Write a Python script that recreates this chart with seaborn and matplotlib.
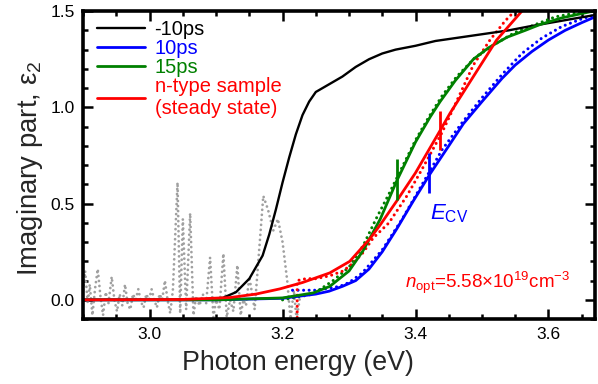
import numpy as np
import pandas as pd
import matplotlib
matplotlib.use("Agg")
import matplotlib.pyplot as plt
import seaborn as sns
from matplotlib.ticker import MultipleLocator, FormatStrFormatter

# ---- data ----
# -10ps (black, solid)
blk_x = [2.90, 3.00, 3.08, 3.11, 3.13, 3.15, 3.17, 3.18, 3.19, 3.20, 3.21, 3.22, 3.23,
         3.24, 3.25, 3.26, 3.27, 3.29, 3.31, 3.33, 3.35, 3.37, 3.40, 3.43, 3.47, 3.50,
         3.54, 3.57, 3.62, 3.67]
blk_y = [0.0, 0.0, 0.002, 0.01, 0.04, 0.11, 0.23, 0.34, 0.47, 0.61, 0.74, 0.86, 0.96,
         1.03, 1.08, 1.10, 1.12, 1.16, 1.21, 1.25, 1.28, 1.30, 1.32, 1.345, 1.365, 1.38,
         1.40, 1.42, 1.45, 1.48]

# 10ps (blue)
blu_x = [2.90, 3.10, 3.20, 3.25, 3.27, 3.29, 3.31, 3.33, 3.35, 3.372, 3.396, 3.422,
         3.45, 3.472, 3.50, 3.53, 3.55, 3.575, 3.60, 3.625, 3.65, 3.67]
blu_y = [0.0, 0.0, 0.008, 0.03, 0.045, 0.07, 0.10, 0.16, 0.25, 0.37, 0.51, 0.655,
         0.80, 0.915, 1.03, 1.15, 1.22, 1.29, 1.35, 1.40, 1.44, 1.47]
blu_dx = [3.215, 3.25, 3.286, 3.30, 3.32, 3.35, 3.38, 3.41, 3.44, 3.47, 3.50, 3.53,
          3.56, 3.59, 3.62, 3.65, 3.67]
blu_dy = [0.05, 0.05, 0.07, 0.09, 0.14, 0.26, 0.42, 0.60, 0.78, 0.92, 1.05, 1.17,
          1.28, 1.36, 1.42, 1.46, 1.48]

# 15ps (green)
grn_x = [2.90, 3.10, 3.20, 3.246, 3.271, 3.30, 3.321, 3.347, 3.372, 3.40, 3.422, 3.437,
         3.46, 3.487, 3.51, 3.538, 3.565, 3.587, 3.62, 3.667]
grn_y = [0.0, 0.0, 0.01, 0.036, 0.07, 0.15, 0.255, 0.42, 0.62, 0.82, 0.95, 1.03,
         1.14, 1.25, 1.31, 1.365, 1.40, 1.43, 1.465, 1.50]
grn_dx = [3.20, 3.246, 3.276, 3.30, 3.321, 3.342, 3.36, 3.38, 3.40, 3.42, 3.44, 3.462,
          3.49, 3.52, 3.55, 3.58, 3.61, 3.64, 3.667]
grn_dy = [0.0, 0.03, 0.10, 0.17, 0.28, 0.43, 0.55, 0.69, 0.83, 0.95, 1.06, 1.16,
          1.26, 1.33, 1.39, 1.43, 1.47, 1.49, 1.50]

# n-type sample, steady state (red)
red_x = [2.90, 3.05, 3.121, 3.16, 3.196, 3.23, 3.271, 3.301, 3.332, 3.347, 3.372, 3.40,
         3.437, 3.452, 3.487, 3.522, 3.565]
red_y = [0.0, 0.002, 0.012, 0.03, 0.057, 0.09, 0.14, 0.20, 0.32, 0.39, 0.515, 0.66,
         0.88, 0.97, 1.16, 1.35, 1.52]
red_dx = [3.222, 3.222, 3.235, 3.25, 3.271, 3.291, 3.306, 3.321, 3.336, 3.36, 3.387,
          3.41, 3.44, 3.467, 3.487, 3.512, 3.535, 3.552]
red_dy = [-0.12, 0.10, 0.11, 0.11, 0.125, 0.15, 0.19, 0.245, 0.32, 0.40, 0.54,
          0.68, 0.87, 1.07, 1.22, 1.35, 1.45, 1.51]

# noisy low-energy data (grey, dotted)
gry_x = [2.900, 2.903, 2.907, 2.910, 2.914, 2.918, 2.922, 2.926, 2.930, 2.934, 2.938,
         2.943, 2.947, 2.951, 2.955, 2.959, 2.963, 2.967, 2.971, 2.975, 2.979, 2.983,
         2.987, 2.991, 2.995, 2.999, 3.003, 3.007, 3.011, 3.015, 3.019, 3.023, 3.027,
         3.031, 3.035, 3.042, 3.046, 3.050, 3.055, 3.061, 3.066, 3.070, 3.075, 3.080,
         3.085, 3.091, 3.096, 3.100, 3.105, 3.111, 3.116, 3.121, 3.126, 3.132, 3.137,
         3.141, 3.145, 3.150, 3.158, 3.171, 3.178, 3.186, 3.193, 3.200, 3.207, 3.212,
         3.217, 3.221, 3.226]
gry_y = [0.05, 0.15, -0.02, 0.08, -0.08, 0.06, 0.16, 0.02, -0.08, 0.04, -0.02,
         0.12, 0.0, -0.06, 0.03, -0.03, 0.08, -0.02, -0.05, 0.03, 0.0, 0.055,
         -0.01, -0.04, 0.03, 0.0, 0.055, 0.0, -0.04, 0.03, 0.0, 0.10, 0.0,
         -0.07, 0.05, 0.61, -0.07, 0.42, -0.05, 0.45, -0.08, 0.02, -0.03, 0.03,
         -0.02, 0.22, -0.09, 0.0, -0.05, 0.24, -0.09, 0.0, -0.06, 0.18, -0.08,
         0.0, -0.03, 0.12, -0.05, 0.54, 0.47, 0.36, 0.42, 0.30, 0.10, -0.10,
         0.05, -0.10, 0.01]

# E_CV / fit markers
mark_x = [3.372, 3.420, 3.437]
mark_lo = [0.52, 0.557, 0.78]
mark_hi = [0.73, 0.765, 0.98]
mark_c = ["#008000", "#0000ff", "#ff0000"]

labels = ["-10ps", "10ps", "15ps", "n-type sample\n(steady state)"]
colors = ["black", "#0000ff", "#008000", "#ff0000"]

# ---- plot ----
sns.set_style("ticks")
plt.rcParams['font.family'] = ['Liberation Sans', 'DejaVu Sans']
plt.rcParams['mathtext.fontset'] = 'custom'
plt.rcParams['mathtext.rm'] = 'Liberation Sans'
plt.rcParams['mathtext.it'] = 'Liberation Sans:italic'

fig, ax = plt.subplots(figsize=(5.98, 3.84), dpi=100)
fig.subplots_adjust(left=0.139, right=0.995, bottom=0.169, top=0.971)

dot = (0, (0.01, 1.8))
sns.lineplot(x=gry_x, y=gry_y, ax=ax, color="#a0a0a0", lw=2.0, ls=dot,
             sort=False, estimator=None, dash_capstyle="round")
for dx, dy, c in [(blu_dx, blu_dy, colors[1]), (grn_dx, grn_dy, colors[2]),
                  (red_dx, red_dy, colors[3])]:
    sns.lineplot(x=dx, y=dy, ax=ax, color=c, lw=2.2, ls=dot, sort=False,
                 estimator=None, dash_capstyle="round")

series = [(blk_x, blk_y), (blu_x, blu_y), (grn_x, grn_y), (red_x, red_y)]
handles = []
for (sx, sy), c, lab in zip(series, colors, labels):
    sns.lineplot(x=sx, y=sy, ax=ax, color=c, lw=2.0 if c != "black" else 1.7,
                 sort=False, estimator=None)
    handles.append(ax.lines[-1])

ax.vlines(mark_x, mark_lo, mark_hi, colors=mark_c, lw=2.0)

ax.set_xlim(2.9, 3.67)
ax.set_ylim(-0.1, 1.5)
ax.xaxis.set_major_locator(MultipleLocator(0.2))
ax.xaxis.set_minor_locator(MultipleLocator(0.05))
ax.yaxis.set_major_locator(MultipleLocator(0.5))
ax.yaxis.set_minor_locator(MultipleLocator(0.1))
ax.xaxis.set_major_formatter(FormatStrFormatter('%.1f'))
ax.yaxis.set_major_formatter(FormatStrFormatter('%.1f'))
ax.tick_params(which='both', direction='in', top=True, right=True, labelsize=12.5,
               width=1.8, colors='black')
ax.tick_params(which='major', length=7.5, pad=6)
ax.tick_params(which='minor', length=3.5)
for s in ax.spines.values():
    s.set_linewidth(2.6)
    s.set_color('black')

ax.set_xlabel("Photon energy (eV)", fontsize=19.3)
ax.xaxis.set_label_coords(0.42, -0.10)
ax.set_ylabel("Imaginary part, ε$_2$", fontsize=19.8)
ax.yaxis.set_label_coords(-0.074, 0.49)

leg = ax.legend(handles, labels, loc="upper left", frameon=False, fontsize=14.5,
                handlelength=2.35, handletextpad=0.5, labelspacing=0.0,
                borderaxespad=0.3, bbox_to_anchor=(0.0, 1.018))
for t, c in zip(leg.get_texts(), colors):
    t.set_color(c)

ax.text(3.422, 0.42, "$E_{\\rm CV}$", color="#0000ff", fontsize=16)
ax.text(3.384, 0.06, "$n_{\\rm opt}$=5.58×10$^{19}$cm$^{-3}$", color="#ff0000",
        fontsize=13.5)

fig.savefig("out.png", dpi=100)
